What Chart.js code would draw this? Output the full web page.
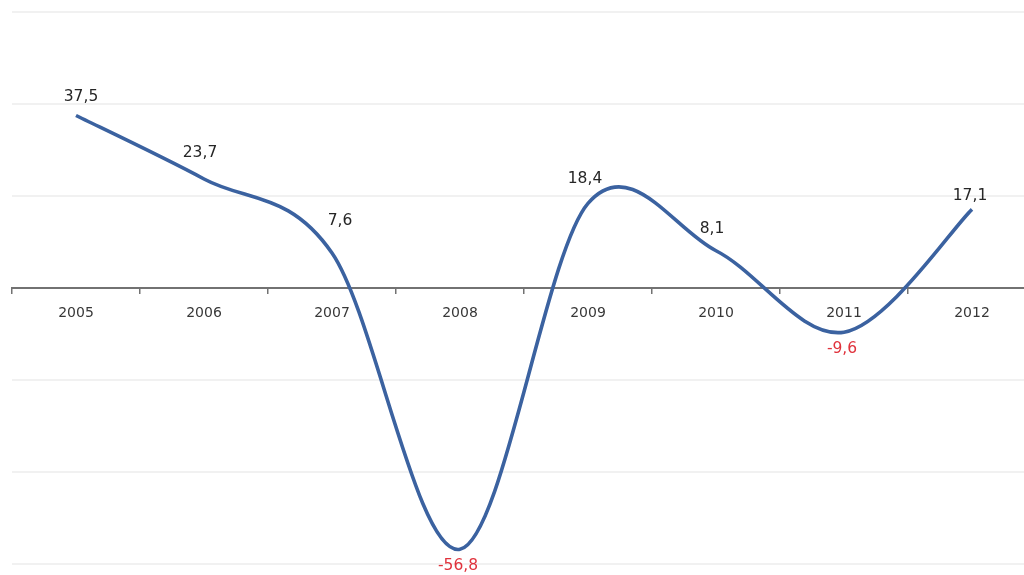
<!DOCTYPE html>
<html>
<head>
<meta charset="utf-8">
<script src="https://cdn.jsdelivr.net/npm/chart.js@4/dist/chart.umd.min.js"></script>
<style>
  html, body { margin: 0; padding: 0; background: #ffffff; overflow: hidden; }
  #wrap { position: absolute; left: 0; top: 0; width: 1040px; height: 575px; }
</style>
</head>
<body>
<div id="wrap"><canvas id="chart" width="1040" height="575"></canvas></div>
<script>
// Annual change, %
const years = ['2005', '2006', '2007', '2008', '2009', '2010', '2011', '2012'];
const growth = [37.5, 23.7, 7.6, -56.8, 18.4, 8.1, -9.6, 17.1];

// Value scale bounds and step
const yMin = -60;
const yMax = 60;
const yStep = 20;

// Small per-point nudges of the value labels (dx, dy in px)
const labelNudge = [[5, 3], [-4, -4], [8, -10], [-2, 0], [-3, -2], [-4, 0], [-2, 0], [-2, 9]];

const fmt = v => v.toFixed(1).replace('.', ',');

// Uniform Catmull-Rom style smoothing (tangent = (next - prev) / 6)
const smoothCurve = {
  id: 'smoothCurve',
  beforeDatasetsDraw(chart) {
    const meta = chart.getDatasetMeta(0);
    const pts = meta.data;
    const n = pts.length;
    for (let i = 0; i < n; i++) {
      const p = pts[i];
      const prev = pts[Math.max(i - 1, 0)];
      const next = pts[Math.min(i + 1, n - 1)];
      const dx = (next.x - prev.x) / 6;
      const dy = (next.y - prev.y) / 6;
      p.cp1x = p.x - dx;
      p.cp1y = p.y - dy;
      p.cp2x = p.x + dx;
      p.cp2y = p.y + dy;
    }
    meta.dataset._pointsUpdated = true;
  }
};

const valueLabels = {
  id: 'valueLabels',
  afterDatasetsDraw(chart) {
    const ctx = chart.ctx;
    const meta = chart.getDatasetMeta(0);
    const data = chart.data.datasets[0].data;
    ctx.save();
    ctx.font = '15.5px "DejaVu Sans", sans-serif';
    ctx.textAlign = 'center';
    ctx.textBaseline = 'middle';
    meta.data.forEach((pt, i) => {
      const v = data[i];
      const n = labelNudge[i] || [0, 0];
      const neg = v < 0;
      ctx.fillStyle = neg ? '#e0323c' : '#262626';
      const y = neg ? pt.y + 17 : pt.y - 22;
      ctx.fillText(fmt(v), pt.x + n[0], y + n[1]);
    });
    ctx.restore();
  }
};

new Chart(document.getElementById('chart'), {
  type: 'line',
  data: {
    labels: years,
    datasets: [{
      data: growth,
      borderColor: '#3b62a0',
      borderWidth: 3.6,
      pointRadius: 0,
      pointHoverRadius: 0,
      tension: 0.4,
      fill: false
    }]
  },
  options: {
    responsive: false,
    animation: false,
    events: [],
    layout: { padding: { left: 12, right: 4, top: 12, bottom: 11 } },
    plugins: { legend: { display: false }, tooltip: { enabled: false } },
    scales: {
      x: {
        position: { y: 0 },
        offset: true,
        border: { display: true, color: '#727272', width: 2 },
        grid: {
          offset: true,
          drawOnChartArea: false,
          drawTicks: true,
          tickLength: 5,
          color: '#727272',
          lineWidth: 1.5
        },
        ticks: {
          color: '#383838',
          font: { family: '"DejaVu Sans", sans-serif', size: 14 },
          padding: 12,
          maxRotation: 0
        }
      },
      y: {
        min: yMin,
        max: yMax,
        border: { display: false },
        grid: { color: '#f1f1f1', lineWidth: 2, drawTicks: false },
        ticks: { display: false, stepSize: yStep }
      }
    }
  },
  plugins: [smoothCurve, valueLabels]
});
</script>
</body>
</html>
